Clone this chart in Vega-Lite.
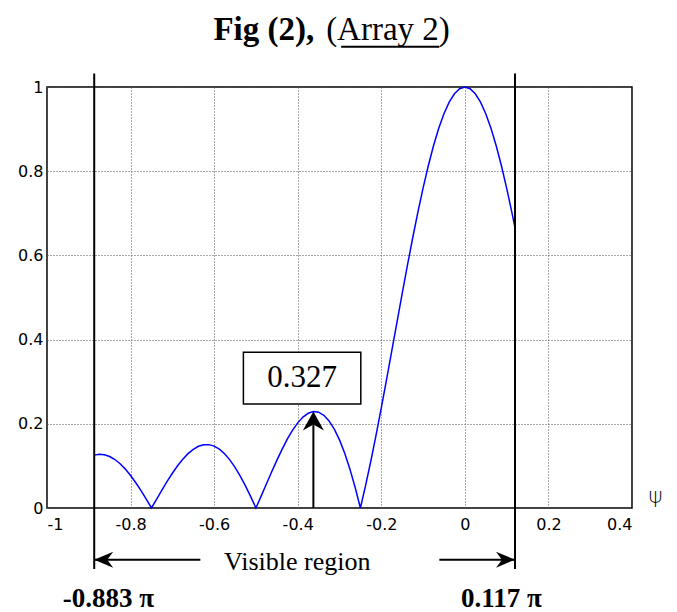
{
  "$schema": "https://vega.github.io/schema/vega-lite/v6.json",
  "width": 585,
  "height": 421,
  "autosize": {"type": "none"},
  "padding": {"left": 47, "top": 87, "right": 45, "bottom": 104},
  "background": "white",
  "config": {
    "view": {"stroke": "black", "strokeWidth": 1.5}
  },
  "datasets": {
    "curve": [
      {"x": -0.887, "y": 0.1256}, {"x": -0.875, "y": 0.12745}, {"x": -0.8625, "y": 0.1264}, {"x": -0.85, "y": 0.12226},
      {"x": -0.8375, "y": 0.11511}, {"x": -0.825, "y": 0.10507}, {"x": -0.8125, "y": 0.09237}, {"x": -0.8, "y": 0.07725},
      {"x": -0.7875, "y": 0.06006}, {"x": -0.775, "y": 0.04117}, {"x": -0.7625, "y": 0.021}, {"x": -0.75, "y": 0},
      {"x": -0.7375, "y": 0.02134}, {"x": -0.725, "y": 0.04253}, {"x": -0.7125, "y": 0.06307}, {"x": -0.7, "y": 0.08246},
      {"x": -0.6875, "y": 0.10022}, {"x": -0.675, "y": 0.11591}, {"x": -0.6625, "y": 0.1291}, {"x": -0.65, "y": 0.13943},
      {"x": -0.6375, "y": 0.14659}, {"x": -0.625, "y": 0.15034}, {"x": -0.6125, "y": 0.15049}, {"x": -0.6, "y": 0.14695},
      {"x": -0.5875, "y": 0.13969}, {"x": -0.575, "y": 0.12877}, {"x": -0.5625, "y": 0.11434}, {"x": -0.55, "y": 0.09662},
      {"x": -0.5375, "y": 0.07592}, {"x": -0.525, "y": 0.0526}, {"x": -0.5125, "y": 0.02713}, {"x": -0.5, "y": 0},
      {"x": -0.4875, "y": 0.02821}, {"x": -0.475, "y": 0.05691}, {"x": -0.4625, "y": 0.08543}, {"x": -0.45, "y": 0.11313},
      {"x": -0.4375, "y": 0.13933}, {"x": -0.425, "y": 0.16335}, {"x": -0.4125, "y": 0.18453}, {"x": -0.4, "y": 0.20225},
      {"x": -0.3875, "y": 0.21592}, {"x": -0.375, "y": 0.22499}, {"x": -0.3625, "y": 0.229}, {"x": -0.35, "y": 0.22753},
      {"x": -0.3375, "y": 0.22026}, {"x": -0.325, "y": 0.20697}, {"x": -0.3125, "y": 0.1875}, {"x": -0.3, "y": 0.16184},
      {"x": -0.2875, "y": 0.13004}, {"x": -0.275, "y": 0.09226}, {"x": -0.2625, "y": 0.04879}, {"x": -0.25, "y": 0},
      {"x": -0.2375, "y": 0.05365}, {"x": -0.225, "y": 0.1116}, {"x": -0.2125, "y": 0.17321}, {"x": -0.2, "y": 0.23777},
      {"x": -0.1875, "y": 0.30449}, {"x": -0.175, "y": 0.37256}, {"x": -0.1625, "y": 0.44111}, {"x": -0.15, "y": 0.50925},
      {"x": -0.1375, "y": 0.57609}, {"x": -0.125, "y": 0.64073}, {"x": -0.1125, "y": 0.7023}, {"x": -0.1, "y": 0.75995},
      {"x": -0.0875, "y": 0.81289}, {"x": -0.075, "y": 0.86039}, {"x": -0.0625, "y": 0.90177}, {"x": -0.05, "y": 0.93646},
      {"x": -0.0375, "y": 0.96395}, {"x": -0.025, "y": 0.98389}, {"x": -0.0125, "y": 0.99591}, {"x": 0, "y": 1},
      {"x": 0.0125, "y": 0.99591}, {"x": 0.025, "y": 0.98389}, {"x": 0.0375, "y": 0.96395}, {"x": 0.05, "y": 0.93646},
      {"x": 0.0625, "y": 0.90177}, {"x": 0.075, "y": 0.86039}, {"x": 0.0875, "y": 0.81289}, {"x": 0.1, "y": 0.75995},
      {"x": 0.1125, "y": 0.7023}, {"x": 0.12, "y": 0.66578}
    ],
    "vlines": [
      {"x": -0.887, "y": 1.032, "y2": -0.145},
      {"x": 0.12, "y": 1.032, "y2": -0.145}
    ],
    "hlines": [
      {"x": -0.887, "x2": -0.633, "y": -0.1227},
      {"x": -0.061, "x2": 0.12, "y": -0.1227}
    ],
    "shaft": [{"x": -0.3625, "y": 0, "y2": 0.2}],
    "leftHead": [{"x": -0.887, "y": -0.1227}],
    "rightHead": [{"x": 0.12, "y": -0.1227}],
    "upHead": [{"x": -0.3625, "y": 0.229}],
    "box": [{"x": -0.53, "x2": -0.249, "y": 0.37, "y2": 0.247}],
    "boxText": [{"x": -0.3895, "y": 0.3085, "label": "0.327"}],
    "region": [{"x": -0.401, "y": -0.128, "label": "Visible region"}],
    "bounds": [
      {"x": -0.853, "y": -0.216, "label": "-0.883 π"},
      {"x": 0.0873, "y": -0.216, "label": "0.117 π"}
    ],
    "psiLabel": [{"x": 0.456, "y": 0.028, "label": "ψ"}],
    "titleBold": [{"x": -0.6017, "y": 1.1127, "label": "Fig (2),"}],
    "titleReg": [{"x": -0.332, "y": 1.1127, "label": "(Array 2)"}],
    "underline": [{"x": -0.296, "x2": -0.061, "y": 1.0954}]
  },
  "layer": [
    {
      "data": {"name": "curve"},
      "mark": {"type": "line", "color": "#0000ff", "strokeWidth": 1.5, "clip": false},
      "encoding": {
        "x": {
          "field": "x", "type": "quantitative",
          "scale": {"domain": [-1, 0.4], "nice": false, "zero": false},
          "axis": {"title": null, "values": [-1, -0.8, -0.6, -0.4, -0.2, 0, 0.2, 0.4], "labelExpr": "toString(datum.value)", "labelPadding": 8, "labelFontSize": 16, "labelFont": "DejaVu Sans", "labelColor": "black", "domain": false, "ticks": false, "grid": true, "gridDash": [1, 2], "gridColor": "#555", "gridWidth": 1, "gridOpacity": 1}
        },
        "y": {
          "field": "y", "type": "quantitative",
          "scale": {"domain": [0, 1], "nice": false, "zero": false},
          "axis": {"title": null, "values": [0, 0.2, 0.4, 0.6, 0.8, 1], "labelExpr": "toString(datum.value)", "labelPadding": 4, "labelFontSize": 16, "labelFont": "DejaVu Sans", "labelColor": "black", "domain": false, "ticks": false, "grid": true, "gridDash": [1, 2], "gridColor": "#555", "gridWidth": 1, "gridOpacity": 1}
        }
      }
    },
    {
      "data": {"name": "vlines"},
      "mark": {"type": "rule", "color": "black", "strokeWidth": 2, "clip": false},
      "encoding": {
        "x": {"field": "x", "type": "quantitative"},
        "y": {"field": "y", "type": "quantitative"},
        "y2": {"field": "y2"}
      }
    },
    {
      "data": {"name": "hlines"},
      "mark": {"type": "rule", "color": "black", "strokeWidth": 2, "clip": false},
      "encoding": {
        "x": {"field": "x", "type": "quantitative"},
        "x2": {"field": "x2"},
        "y": {"field": "y", "type": "quantitative"}
      }
    },
    {
      "data": {"name": "shaft"},
      "mark": {"type": "rule", "color": "black", "strokeWidth": 2, "clip": false},
      "encoding": {
        "x": {"field": "x", "type": "quantitative"},
        "y": {"field": "y", "type": "quantitative"},
        "y2": {"field": "y2"}
      }
    },
    {
      "data": {"name": "leftHead"},
      "mark": {"type": "point", "shape": "M0,0L1.9,-0.8L1.3,0L1.9,0.8Z", "size": 400, "filled": true, "color": "black", "opacity": 1, "strokeWidth": 0, "clip": false},
      "encoding": {
        "x": {"field": "x", "type": "quantitative"},
        "y": {"field": "y", "type": "quantitative"}
      }
    },
    {
      "data": {"name": "rightHead"},
      "mark": {"type": "point", "shape": "M0,0L-1.9,-0.8L-1.3,0L-1.9,0.8Z", "size": 400, "filled": true, "color": "black", "opacity": 1, "strokeWidth": 0, "clip": false},
      "encoding": {
        "x": {"field": "x", "type": "quantitative"},
        "y": {"field": "y", "type": "quantitative"}
      }
    },
    {
      "data": {"name": "upHead"},
      "mark": {"type": "point", "shape": "M0,0L-1.05,1.9L0,1.3L1.05,1.9Z", "size": 400, "filled": true, "color": "black", "opacity": 1, "strokeWidth": 0, "clip": false},
      "encoding": {
        "x": {"field": "x", "type": "quantitative"},
        "y": {"field": "y", "type": "quantitative"}
      }
    },
    {
      "data": {"name": "box"},
      "mark": {"type": "rect", "fill": "white", "stroke": "black", "strokeWidth": 1.5, "clip": false},
      "encoding": {
        "x": {"field": "x", "type": "quantitative"},
        "x2": {"field": "x2"},
        "y": {"field": "y", "type": "quantitative"},
        "y2": {"field": "y2"}
      }
    },
    {
      "data": {"name": "boxText"},
      "mark": {"type": "text", "font": "Liberation Serif", "fontSize": 31, "color": "black", "align": "center", "baseline": "middle", "clip": false},
      "encoding": {
        "x": {"field": "x", "type": "quantitative"},
        "y": {"field": "y", "type": "quantitative"},
        "text": {"field": "label"}
      }
    },
    {
      "data": {"name": "region"},
      "mark": {"type": "text", "font": "Liberation Serif", "fontSize": 26, "color": "black", "align": "center", "baseline": "middle", "clip": false},
      "encoding": {
        "x": {"field": "x", "type": "quantitative"},
        "y": {"field": "y", "type": "quantitative"},
        "text": {"field": "label"}
      }
    },
    {
      "data": {"name": "bounds"},
      "mark": {"type": "text", "font": "Liberation Serif", "fontSize": 27, "fontWeight": "bold", "color": "black", "align": "center", "baseline": "middle", "clip": false},
      "encoding": {
        "x": {"field": "x", "type": "quantitative"},
        "y": {"field": "y", "type": "quantitative"},
        "text": {"field": "label"}
      }
    },
    {
      "data": {"name": "psiLabel"},
      "mark": {"type": "text", "font": "DejaVu Sans", "fontSize": 22, "fontWeight": 300, "color": "black", "align": "center", "baseline": "middle", "clip": false},
      "encoding": {
        "x": {"field": "x", "type": "quantitative"},
        "y": {"field": "y", "type": "quantitative"},
        "text": {"field": "label"}
      }
    },
    {
      "data": {"name": "titleBold"},
      "mark": {"type": "text", "font": "Liberation Serif", "fontSize": 33, "fontWeight": "bold", "color": "black", "align": "left", "baseline": "alphabetic", "clip": false},
      "encoding": {
        "x": {"field": "x", "type": "quantitative"},
        "y": {"field": "y", "type": "quantitative"},
        "text": {"field": "label"}
      }
    },
    {
      "data": {"name": "titleReg"},
      "mark": {"type": "text", "font": "Liberation Serif", "fontSize": 33, "color": "black", "align": "left", "baseline": "alphabetic", "clip": false},
      "encoding": {
        "x": {"field": "x", "type": "quantitative"},
        "y": {"field": "y", "type": "quantitative"},
        "text": {"field": "label"}
      }
    },
    {
      "data": {"name": "underline"},
      "mark": {"type": "rule", "color": "black", "strokeWidth": 2, "clip": false},
      "encoding": {
        "x": {"field": "x", "type": "quantitative"},
        "x2": {"field": "x2"},
        "y": {"field": "y", "type": "quantitative"}
      }
    }
  ]
}
